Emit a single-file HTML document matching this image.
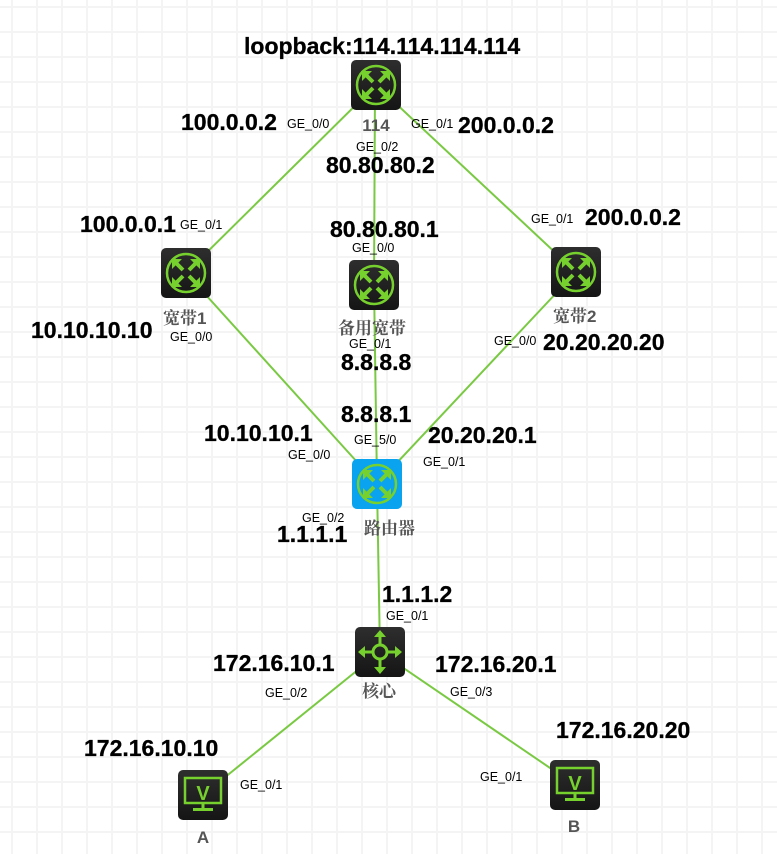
<!DOCTYPE html>
<html><head><meta charset="utf-8"><style>
html,body{margin:0;padding:0;background:#fff;}
svg{display:block;}
.b{font-family:"Liberation Sans",sans-serif;font-weight:bold;font-size:23px;fill:#000;stroke:#000;stroke-width:0.3;}
.s{font-family:"Liberation Sans",sans-serif;font-size:12.5px;fill:#000;}
.c{font-family:"Liberation Sans","Noto Serif CJK SC",serif;font-weight:bold;font-size:17px;fill:#555;}
</style></head><body>
<svg width="777" height="854" xmlns="http://www.w3.org/2000/svg">
<defs>
<pattern id="g" x="11" y="6" width="25" height="25" patternUnits="userSpaceOnUse">
<rect x="0" y="0" width="2" height="25" fill="#f4f4f4"/><rect x="0" y="0" width="25" height="2" fill="#f4f4f4"/>
</pattern>
<linearGradient id="dk" x1="0" y1="0" x2="0" y2="1"><stop offset="0" stop-color="#2e2e2e"/><stop offset="1" stop-color="#151515"/></linearGradient>
<g id="sw">
<rect x="-25" y="-25" width="50" height="50" rx="5" fill="url(#dk)"/>
<circle r="19" fill="none" stroke="#76d02e" stroke-width="2.5"/>
<g stroke="#76d02e" stroke-width="4" fill="none">
<path d="M-12-12 L-3-3 M12-12 L3-3 M-12 12 L-3 3 M12 12 L3 3"/>
</g>
<g fill="#76d02e">
<path d="M-14-14 h10 l-10 10z M14-14 h-10 l10 10z M-14 14 h10 l-10-10z M14 14 h-10 l10-10z"/>
</g>
</g>
<g id="swb">
<rect x="-25" y="-25" width="50" height="50" rx="5" fill="#0aa3f0"/>
<circle r="19" fill="none" stroke="#76d02e" stroke-width="2.5"/>
<g stroke="#76d02e" stroke-width="4" fill="none"><path d="M-12-12 L-3-3 M12-12 L3-3 M-12 12 L-3 3 M12 12 L3 3"/></g>
<g fill="#76d02e"><path d="M-14-14 h10 l-10 10z M14-14 h-10 l10 10z M-14 14 h10 l-10-10z M14 14 h-10 l10-10z"/></g>
</g>
<g id="pc">
<rect x="-25" y="-25" width="50" height="50" rx="5" fill="url(#dk)"/>
<rect x="-18" y="-17" width="36" height="25" fill="none" stroke="#76d02e" stroke-width="2.5"/>
<text x="0" y="5" text-anchor="middle" font-family="Liberation Sans" font-weight="bold" font-size="20" fill="#76d02e">V</text>
<rect x="-1.5" y="8" width="3" height="5" fill="#76d02e"/>
<rect x="-10" y="13" width="20" height="3" fill="#76d02e"/>
</g>
</defs>
<rect width="777" height="854" fill="url(#g)"/>
<g stroke="#7ac943" stroke-width="2">
<line x1="376" y1="85" x2="186" y2="273"/>
<line x1="376" y1="85" x2="576" y2="272"/>
<line x1="375" y1="85" x2="374" y2="285"/>
<line x1="186" y1="273" x2="377" y2="484"/>
<line x1="576" y1="272" x2="377" y2="484"/>
<line x1="374" y1="285" x2="377" y2="484"/>
<line x1="377" y1="484" x2="380" y2="652"/>
<line x1="380" y1="652" x2="203" y2="795"/>
<line x1="380" y1="652" x2="575" y2="785"/>
</g>
<use href="#sw" x="376" y="85"/>
<use href="#sw" x="186" y="273"/>
<use href="#sw" x="374" y="285"/>
<use href="#sw" x="576" y="272"/>
<use href="#swb" x="377" y="484"/>
<g transform="translate(380,652)">
<rect x="-25" y="-25" width="50" height="50" rx="5" fill="url(#dk)"/>
<circle r="7" fill="none" stroke="#76d02e" stroke-width="3"/>
<g stroke="#76d02e" stroke-width="3"><path d="M0-7V-17 M0 7V17 M-7 0H-17 M7 0H17"/></g>
<g fill="#76d02e"><path d="M0-22 l-6 7h12z M0 22 l-6-7h12z M-22 0 l7-6v12z M22 0 l-7-6v12z"/></g>
</g>
<use href="#pc" x="203" y="795"/>
<use href="#pc" x="575" y="785"/>

<text class="b" x="244" y="54">loopback:114.114.114.114</text>
<text class="b" x="181" y="130">100.0.0.2</text>
<text class="s" x="287" y="128">GE_0/0</text>
<text class="c" x="376" y="131" text-anchor="middle">114</text>
<text class="s" x="411" y="128">GE_0/1</text>
<text class="b" x="458" y="133">200.0.0.2</text>
<text class="s" x="356" y="151">GE_0/2</text>
<text class="b" x="326" y="173">80.80.80.2</text>
<text class="b" x="80" y="232">100.0.0.1</text>
<text class="s" x="180" y="229">GE_0/1</text>
<text class="b" x="330" y="237">80.80.80.1</text>
<text class="s" x="352" y="252">GE_0/0</text>
<text class="s" x="531" y="223">GE_0/1</text>
<text class="b" x="585" y="225">200.0.0.2</text>
<text class="c" x="163" y="324">宽带1</text>
<text class="s" x="170" y="341">GE_0/0</text>
<text class="b" x="31" y="338">10.10.10.10</text>
<text class="c" x="338" y="334">备用宽带</text>
<text class="s" x="349" y="348">GE_0/1</text>
<text class="b" x="341" y="370">8.8.8.8</text>
<text class="c" x="553" y="322">宽带2</text>
<text class="s" x="494" y="345">GE_0/0</text>
<text class="b" x="543" y="350">20.20.20.20</text>
<text class="b" x="341" y="422">8.8.8.1</text>
<text class="s" x="354" y="444">GE_5/0</text>
<text class="b" x="204" y="441">10.10.10.1</text>
<text class="s" x="288" y="459">GE_0/0</text>
<text class="b" x="428" y="443">20.20.20.1</text>
<text class="s" x="423" y="466">GE_0/1</text>
<text class="s" x="302" y="522">GE_0/2</text>
<text class="c" x="364" y="534">路由器</text>
<text class="b" x="277" y="542">1.1.1.1</text>
<text class="b" x="382" y="602">1.1.1.2</text>
<text class="s" x="386" y="620">GE_0/1</text>
<text class="b" x="213" y="671">172.16.10.1</text>
<text class="s" x="265" y="697">GE_0/2</text>
<text class="c" x="362" y="697">核心</text>
<text class="b" x="435" y="672">172.16.20.1</text>
<text class="s" x="450" y="696">GE_0/3</text>
<text class="b" x="84" y="756">172.16.10.10</text>
<text class="s" x="240" y="789">GE_0/1</text>
<text class="c" x="203" y="843" text-anchor="middle">A</text>
<text class="b" x="556" y="738">172.16.20.20</text>
<text class="s" x="480" y="781">GE_0/1</text>
<text class="c" x="574" y="832" text-anchor="middle">B</text>
</svg>
</body></html>
